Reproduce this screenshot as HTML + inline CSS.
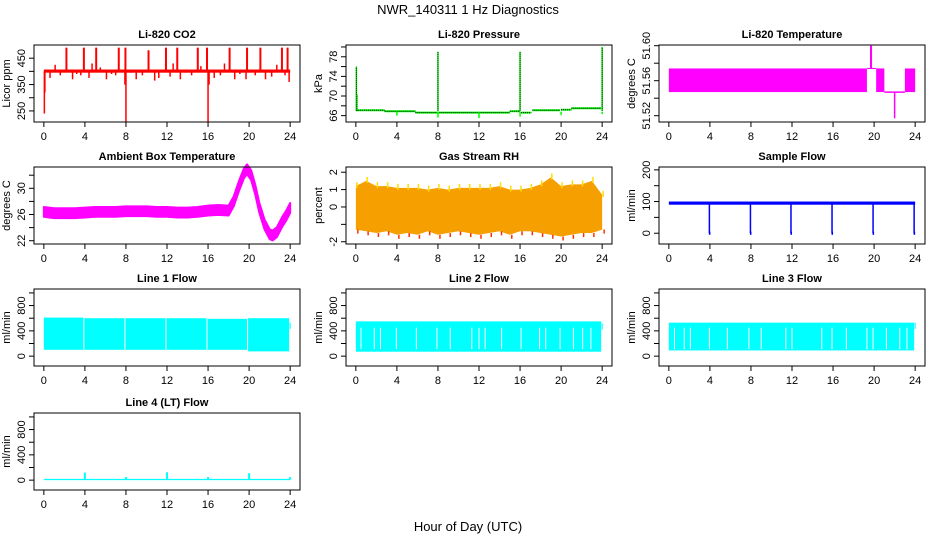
<!DOCTYPE html>
<html><head><meta charset="utf-8">
<style>
html,body{margin:0;padding:0;background:#fff;}
svg{display:block;font-family:"Liberation Sans",sans-serif;}
</style></head>
<body>
<svg id="chart" width="936" height="540" viewBox="0 0 936 540">
<text x="468" y="14" text-anchor="middle" font-size="13">NWR_140311  1 Hz Diagnostics</text>
<text x="468" y="531" text-anchor="middle" font-size="13">Hour of Day (UTC)</text>
</svg>
<script>
// ---- shared axis data ----
const xTicks = [0,4,8,12,16,20,24];

// CO2
const co2Base = [[0,24,395,407]];
const co2UpHours = [2.2,3.9,5.1,7.3,7.95,10.2,11.9,13.0,15.0,15.9,18.1,19.8,21.1,23.2,23.75];
const co2UpVals  = [490,490,490,490,490,480,490,490,490,490,490,490,490,490,490];
const co2DownHours = [0.05,0.1,8.0,16.0,7.9,16.1,23.9];
const co2DownVals  = [240,320,210,210,350,350,360];
const co2SmallHours = [0.6,1.1,1.6,2.8,3.2,3.6,4.4,4.7,5.5,6.1,6.6,7.0,8.5,9.0,9.6,10.8,11.2,12.3,12.6,13.3,13.8,14.4,15.3,16.6,17.2,17.6,18.6,19.1,19.7,20.6,21.6,22.2,22.7,23.5];
const co2SmallVals  = [375,425,385,370,390,385,375,430,415,370,390,385,395,370,385,365,375,380,430,370,395,385,420,375,385,430,370,390,370,385,370,380,425,385];

// Pressure
const presStepStart = [0,2.8,5.8,15.0,16.1,17.2,20.0,21.0];
const presStepEnd   = [2.8,5.8,15.0,16.0,17.1,19.9,21.0,23.9];
const presStepVal   = [67.1,66.9,66.6,66.9,66.6,67.1,67.2,67.5];
const presUpHours = [0.05,0.1,8.0,16.0,24.0];
const presUpVals  = [76,70.3,79,79,80];
const presDownHours = [4.0,8.0,12.0,16.0,20.0,24.0];
const presDownVals  = [66.0,65.6,65.5,65.8,66.1,66.3];

// Li-820 temperature (bands: start,end,low,high)
const ltStart = [0,19.6,20.2,23.0];
const ltEnd   = [19.3,19.8,21.0,24.0];
const ltLow   = [51.547,51.574,51.547,51.547];
const ltHigh  = [51.574,51.600,51.574,51.574];
const ltLineStart=[21.0], ltLineEnd=[23.0], ltLineVal=[51.547];
const ltSpikeHour=[22.0], ltSpikeVal=[51.517];

// Ambient box temperature
const ambHours = [0,1,2,3,4,5,6,7,8,9,10,11,12,13,14,15,16,17,18,18.5,19,19.5,19.8,20.2,20.6,21,21.5,22,22.3,22.7,23.2,23.6,24];
const ambVals  = [26.4,26.2,26.2,26.2,26.3,26.4,26.4,26.4,26.5,26.5,26.5,26.4,26.4,26.3,26.3,26.4,26.6,26.7,26.6,28.0,30.3,32.3,32.9,32.0,29.8,27.0,24.5,23.0,22.8,23.3,24.8,25.8,27.0];
const ambHalf = 0.75;

// Gas stream RH envelope
const rhHours = [0,1,2,3,4,5,6,7,8,9,10,11,12,13,14,15,16,17,18,19,20,21,22,23,24];
const rhUpper = [1.2,1.5,1.2,1.2,1.1,1.1,1.1,1.0,1.1,1.0,1.1,1.1,1.1,1.1,1.2,1.0,1.0,1.1,1.3,1.7,1.2,1.3,1.3,1.5,0.7];
const rhLower = [-1.3,-1.4,-1.5,-1.4,-1.6,-1.5,-1.6,-1.4,-1.6,-1.5,-1.4,-1.5,-1.6,-1.5,-1.4,-1.6,-1.4,-1.4,-1.5,-1.6,-1.7,-1.6,-1.5,-1.5,-1.3];

// Sample flow
const sfBand = [[0,24,90,100]];
const sfDipHours = [3.95,7.95,11.9,15.9,19.9,23.9];
const sfDipVals  = [0,0,0,0,0,0];

// Line flows: segments [start,end], low, high
const l1Start=[0,3.95,7.95,11.95,15.95,19.9], l1End=[3.85,7.85,11.85,15.85,19.8,23.9];
const l1Low=[100,100,100,100,100,75], l1High=[610,600,600,600,590,600];
const l1Gaps=[];
const l2Start=[0], l2End=[23.9], l2Low=[70], l2High=[550];
const l2Gaps=[0.5,1.8,2.4,3.95,5.9,7.9,9.2,11.3,12.0,12.6,14.2,16.1,17.9,18.5,19.9,21.2,22.1,22.9];
const l3Start=[0], l3End=[23.9], l3Low=[90], l3High=[530];
const l3Gaps=[0.55,1.5,2.1,3.95,5.7,7.8,9.0,11.4,12.0,14.9,15.9,17.3,19.3,19.9,21.2,22.5,23.2];
const l4Start=[0], l4End=[24], l4Low=[0], l4High=[20];
const l4SpikeHours=[4,8,12,16,20,24], l4SpikeVals=[120,50,125,50,110,50];

// ---- drawing ----
const NS="http://www.w3.org/2000/svg";
const svg=document.getElementById('chart');
function mk(tag,attrs,parent){const e=document.createElementNS(NS,tag);for(const k in attrs)e.setAttribute(k,attrs[k]);(parent||svg).appendChild(e);return e;}

function panel(o){
  const g=mk('g',{});
  
  
  const X0=o.x,Y0=o.y,W=266,H=77;
  const xr=[-0.96,24.96];
  const sx=h=>X0+(h-xr[0])/(xr[1]-xr[0])*W;
  const sy=v=>Y0+H-(v-o.yr[0])/(o.yr[1]-o.yr[0])*H;
  const plot=mk('g',{},g);
  
  
  o.draw(plot,sx,sy);
  const box=mk('rect',{x:X0,y:Y0,width:W,height:H,fill:'none',stroke:'#000','stroke-width':1},g);
  
  
  const t=mk('text',{x:X0+W/2,y:Y0-7,'text-anchor':'middle','font-size':11,'font-weight':'bold'},g);
  t.textContent=o.title;
  
  
  // x axis
  const xa=mk('g',{},g);
  
  
  mk('line',{x1:sx(xTicks[0]),x2:sx(xTicks[xTicks.length-1]),y1:Y0+H,y2:Y0+H,stroke:'#000'},xa);
  xTicks.forEach(v=>{
    mk('line',{x1:sx(v),x2:sx(v),y1:Y0+H,y2:Y0+H+5,stroke:'#000'},xa);
    if(o.xlabels!==false){const tx=mk('text',{x:sx(v),y:Y0+H+18,'text-anchor':'middle','font-size':11},xa);tx.textContent=v;}
  });
  // y axis
  const ya=mk('g',{},g);
  
  
  mk('line',{x1:X0,x2:X0,y1:sy(o.yt[0]),y2:sy(o.yt[o.yt.length-1]),stroke:'#000'},ya);
  o.yt.forEach(v=>{
    mk('line',{x1:X0-5,x2:X0,y1:sy(v),y2:sy(v),stroke:'#000'},ya);
  });
  o.yl.forEach(v=>{
    const tx=mk('text',{x:X0-9,y:sy(v),'text-anchor':'middle','font-size':11,transform:`rotate(-90 ${X0-9} ${sy(v)})`},ya);
    tx.textContent=o.fmt?o.fmt(v):v;
  });
  const yl=mk('text',{x:X0-24,y:Y0+H/2,'text-anchor':'middle','font-size':11,transform:`rotate(-90 ${X0-24} ${Y0+H/2})`},g);
  yl.textContent=o.ylab;
  
  
}
function vline(p,x,y1,y2,c,w){return mk('line',{x1:x,x2:x,y1:y1,y2:y2,stroke:c,'stroke-width':w||1.5},p);}
function band(p,sx,sy,s,e,lo,hi,c){return mk('rect',{x:sx(s),y:sy(hi),width:Math.max(1,sx(e)-sx(s)),height:Math.max(1,sy(lo)-sy(hi)),fill:c},p);}

const C=[34,346,659], R=[45,167,289,413];

panel({name:'co2-panel',title:'Li-820 CO2',ylab:'Licor ppm',x:C[0],y:R[0],yr:[208,500],yt:[250,300,350,400,450],yl:[250,350,450],
 draw:(p,sx,sy)=>{
  co2Base.forEach(b=>band(p,sx,sy,b[0],b[1],b[2],b[3],'#ff0000'));
  co2UpHours.forEach((h,i)=>vline(p,sx(h),sy(400),sy(co2UpVals[i]),'#ff0000',2));
  co2DownHours.forEach((h,i)=>vline(p,sx(h),sy(400),sy(co2DownVals[i]),'#ff0000',1.5));
  co2SmallHours.forEach((h,i)=>vline(p,sx(h),sy(400),sy(co2SmallVals[i]),'#ff0000',1.5));
 }});

panel({name:'pressure-panel',title:'Li-820 Pressure',ylab:'kPa',x:C[1],y:R[0],yr:[64.7,80.4],yt:[66,68,70,72,74,76,78,80],yl:[66,70,74,78],
 draw:(p,sx,sy)=>{
  presStepStart.forEach((s,i)=>{
    mk('line',{x1:sx(s),x2:sx(presStepEnd[i]),y1:sy(presStepVal[i]),y2:sy(presStepVal[i]),stroke:'#00ff00','stroke-width':2},p);
    mk('line',{x1:sx(s),x2:sx(presStepEnd[i]),y1:sy(presStepVal[i]),y2:sy(presStepVal[i]),stroke:'#000','stroke-width':1,'stroke-dasharray':'1 1'},p);
  });
  presUpHours.forEach((h,i)=>{vline(p,sx(h),sy(67),sy(presUpVals[i]),'#00ff00',1.5);mk('line',{x1:sx(h),x2:sx(h),y1:sy(67),y2:sy(presUpVals[i]),stroke:'#000','stroke-width':1,'stroke-dasharray':'1 1'},p);});
  presDownHours.forEach((h,i)=>vline(p,sx(h),sy(66.8),sy(presDownVals[i]),'#00ff00',1.5));
 }});

panel({name:'li820-temperature-panel',title:'Li-820 Temperature',ylab:'degrees C',x:C[2],y:R[0],yr:[51.5128,51.6008],yt:[51.52,51.54,51.56,51.58,51.60],yl:[51.52,51.56,51.60],fmt:v=>v.toFixed(2),
 draw:(p,sx,sy)=>{
  ltStart.forEach((s,i)=>band(p,sx,sy,s,ltEnd[i],ltLow[i],ltHigh[i],'#ff00ff'));
  ltLineStart.forEach((s,i)=>mk('line',{x1:sx(s),x2:sx(ltLineEnd[i]),y1:sy(ltLineVal[i]),y2:sy(ltLineVal[i]),stroke:'#ff00ff','stroke-width':1.5},p));
  ltSpikeHour.forEach((h,i)=>vline(p,sx(h),sy(51.547),sy(ltSpikeVal[i]),'#ff00ff',1.5));
  mk('line',{x1:sx(19.3),x2:sx(20.2),y1:sy(51.574),y2:sy(51.574),stroke:'#ff00ff','stroke-width':1},p);
 }});

panel({name:'ambient-temperature-panel',title:'Ambient Box Temperature',ylab:'degrees C',x:C[0],y:R[1],yr:[21.5,33.25],yt:[22,24,26,28,30,32],yl:[22,26,30],
 draw:(p,sx,sy)=>{
  let up=ambHours.map((h,i)=>sx(h)+','+sy(ambVals[i]+ambHalf));
  let lo=ambHours.map((h,i)=>sx(h)+','+sy(ambVals[i]-ambHalf)).reverse();
  mk('polygon',{points:up.concat(lo).join(' '),fill:'#ff00ff',stroke:'#ff00ff','stroke-width':2,'stroke-linejoin':'round'},p);
 }});

panel({name:'gas-stream-rh-panel',title:'Gas Stream RH',ylab:'percent',x:C[1],y:R[1],yr:[-2.13,2.3],yt:[-2,-1,0,1,2],yl:[-2,0,1,2],
 draw:(p,sx,sy)=>{
  let up=rhHours.map((h,i)=>sx(h)+','+sy(rhUpper[i]));
  let lo=rhHours.map((h,i)=>sx(h)+','+sy(rhLower[i])).reverse();
  mk('polygon',{points:up.concat(lo).join(' '),fill:'#f5a000'},p);
  rhHours.forEach((h,i)=>{vline(p,sx(h)+1,sy(rhUpper[i])-4,sy(rhUpper[i])+2,'#ffdd00',1.5);vline(p,sx(h)+2,sy(rhLower[i])+4,sy(rhLower[i]),'#ff3000',1.5);});
 }});

panel({name:'sample-flow-panel',title:'Sample Flow',ylab:'ml/min',x:C[2],y:R[1],yr:[-34,209],yt:[0,50,100,150,200],yl:[0,100,200],
 draw:(p,sx,sy)=>{
  sfBand.forEach(b=>band(p,sx,sy,b[0],b[1],b[2],b[3],'#0000ff'));
  sfDipHours.forEach((h,i)=>{vline(p,sx(h),sy(92),sy(sfDipVals[i]),'#0000ff',1.5);band(p,sx,sy,h-0.05,h+0.1,sfDipVals[i]-5,sfDipVals[i]+5,'#0000ff');});
 }});

function flowPanel(name,title,col,row,st,en,lo,hi,gaps,extra){
  panel({name:name,title:title,ylab:'ml/min',x:C[col],y:R[row],yr:[-156,1062],yt:[0,200,400,600,800,1000],yl:[0,400,800],
   draw:(p,sx,sy)=>{
    st.forEach((s,i)=>band(p,sx,sy,s,en[i],lo[i],hi[i],'#00ffff'));
    gaps.forEach(h=>mk('line',{x1:sx(h),x2:sx(h),y1:sy(450),y2:sy(110),stroke:'#fff','stroke-width':1},p));
    if(extra)extra(p,sx,sy);
   }});
}
flowPanel('line1-flow-panel','Line 1 Flow',0,2,l1Start,l1End,l1Low,l1High,l1Gaps,(p,sx,sy)=>band(p,sx,sy,23.95,24.05,430,530,'#00ffff'));
flowPanel('line2-flow-panel','Line 2 Flow',1,2,l2Start,l2End,l2Low,l2High,l2Gaps,(p,sx,sy)=>band(p,sx,sy,23.95,24.05,420,520,'#00ffff'));
flowPanel('line3-flow-panel','Line 3 Flow',2,2,l3Start,l3End,l3Low,l3High,l3Gaps,(p,sx,sy)=>band(p,sx,sy,23.95,24.05,430,530,'#00ffff'));
flowPanel('line4-flow-panel','Line 4 (LT) Flow',0,3,l4Start,l4End,l4Low,l4High,[],(p,sx,sy)=>{
  l4SpikeHours.forEach((h,i)=>vline(p,sx(h),sy(10),sy(l4SpikeVals[i]),'#00ffff',2));
});
</script>
</body></html>
